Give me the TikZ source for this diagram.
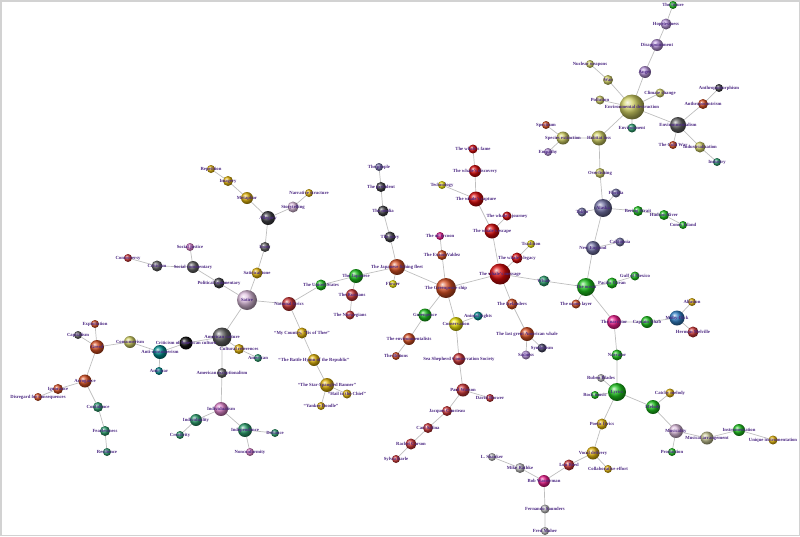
\documentclass[tikz,border=0pt]{standalone}
\usepackage{fontspec}
\setmainfont{Liberation Serif}
\usetikzlibrary{shadings}
\pgfdeclarelayer{bg}
\pgfsetlayers{bg,main}
\definecolor{cRed}{RGB}{215,10,10}
\definecolor{cOrg}{RGB}{215,80,35}
\definecolor{cBrick}{RGB}{205,55,55}
\definecolor{cGray}{RGB}{100,100,100}
\definecolor{cDark}{RGB}{65,65,70}
\definecolor{cBlack}{RGB}{15,15,15}
\definecolor{cThistle}{RGB}{222,190,222}
\definecolor{cGold}{RGB}{225,180,10}
\definecolor{cYel}{RGB}{235,225,10}
\definecolor{cOlive}{RGB}{210,210,100}
\definecolor{cGreen}{RGB}{30,195,30}
\definecolor{cSea}{RGB}{45,160,110}
\definecolor{cTeal}{RGB}{0,140,140}
\definecolor{cMag}{RGB}{235,30,140}
\definecolor{cSlate}{RGB}{115,115,165}
\definecolor{cLav}{RGB}{185,150,220}
\definecolor{cBlue}{RGB}{50,130,200}
\definecolor{cSilver}{RGB}{190,190,190}
\definecolor{cPink}{RGB}{220,130,200}
\definecolor{cKhaki}{RGB}{200,200,150}
\definecolor{cNavy}{RGB}{70,70,100}
\definecolor{cLbl}{RGB}{75,40,130}
\definecolor{cEdge}{RGB}{190,190,190}
\definecolor{cFrame}{RGB}{210,210,210}
\tikzset{
  bnode/.style={circle, inner sep=0pt, outer sep=0pt},
  lbl/.style={font=\fontsize{4.7}{5}\selectfont\bfseries, text=cLbl, inner sep=0pt},
  edge/.style={draw=cEdge, line width=0.7pt}
}
\newcommand\bn[6]{\node[bnode, minimum size=#4pt, ball color=#5, label={[lbl]center:{#6}}] (#1) at (#2,#3) {};}
\begin{document}
\begin{tikzpicture}[x=1pt,y=-1pt]
\useasboundingbox (0,0) rectangle (800,536);
\draw[cFrame, line width=1.5pt] (0.75,0.75) rectangle (799.25,535.25);
% left cluster
\bn{contro}{128}{258}{8}{cBrick}{Controversy}
\bn{critic}{157}{266}{11}{cGray}{Criticism}
\bn{socom}{193}{267}{12}{cGray}{Social commentary}
\bn{sojus}{190}{247}{8}{cPink}{Social justice}
\bn{polcom}{219}{283}{11}{cDark}{Political commentary}
\bn{satire}{247}{300}{20}{cThistle}{Satire}
\bn{sattone}{257}{273}{11}{cGold}{Satirical tone}
\bn{irony}{265}{247}{10}{cGray}{Irony}
\bn{alleg}{268}{218}{14}{cDark}{Allegory}
\bn{story}{293}{207}{11}{cThistle}{Storytelling}
\bn{narrs}{309}{193}{8}{cGold}{Narrative structure}
\bn{metaph}{247}{198}{12}{cGold}{Metaphor}
\bn{imag}{228}{181}{10}{cGold}{Imagery}
\bn{repet}{211}{169}{8}{cGold}{Repetition}
\bn{amcult}{222}{337}{19}{cGray}{American culture}
\bn{critam}{186}{343}{13}{cBlack}{Criticism of American culture}
\bn{culref}{239}{349}{10}{cGold}{Cultural references}
\bn{american}{258}{358}{8}{cSea}{American}
\bn{amexc}{222}{373}{10}{cGray}{American exceptionalism}
\bn{indivm}{221}{409}{14}{cPink}{Individualism}
\bn{indivy}{196}{420}{12}{cSea}{Individuality}
\bn{creat}{180}{435}{8}{cSea}{Creativity}
\bn{indep}{245}{430}{14}{cSea}{Independence}
\bn{defi}{275}{433}{8}{cSea}{Defiance}
\bn{noncon}{250}{452}{8}{cPink}{Nonconformity}
\bn{anticon}{160}{352}{14}{cTeal}{Anti-consumerism}
\bn{antiwar}{159}{371}{8}{cTeal}{Anti-war}
\bn{consum}{130}{342}{12}{cOlive}{Consumerism}
\bn{greed}{97}{347}{14}{cOrg}{Greed}
\bn{exploit}{95}{324}{8}{cOrg}{Exploitation}
\bn{capit}{78}{335}{8}{cGray}{Capitalism}
\bn{arrog}{85}{381}{13}{cOrg}{Arrogance}
\bn{ignor}{58}{389}{10}{cOrg}{Ignorance}
\bn{disreg}{38}{397}{8}{cOrg}{Disregard for consequences}
\bn{confid}{98}{407}{10}{cSea}{Confidence}
\bn{fearl}{105}{431}{10}{cSea}{Fearlessness}
\bn{resil}{107}{452}{8}{cSea}{Resilience}
% anthems
\bn{natlyr}{289}{304}{14}{cBrick}{National lyrics}
\bn{mycountry}{302}{333}{11}{cGold}{``My Country, 'Tis of Thee''}
\bn{battle}{314}{360}{12}{cGold}{``The Battle Hymn of the Republic''}
\bn{star}{327}{385}{14}{cGold}{``The Star-Spangled Banner''}
\bn{hail}{347}{394}{9}{cGold}{``Hail to the Chief''}
\bn{yankee}{321}{406}{8}{cGold}{``Yankee Doodle''}
\bn{usa}{321}{285}{11}{cGreen}{The United States}
\bn{japanese}{356}{276}{14}{cGreen}{The Japanese}
\bn{russians}{352}{295}{12}{cBrick}{The Russians}
\bn{norweg}{350}{315}{9}{cBrick}{The Norwegians}
\bn{fleet}{397}{267}{16}{cOrg}{The Japanese fishing fleet}
\bn{flower}{393}{284}{8}{cYel}{Flower}
\bn{people}{379}{167}{8}{cSlate}{The people}
\bn{president}{381}{187}{10}{cDark}{The president}
\bn{media}{383}{211}{11}{cDark}{The media}
\bn{navy}{390}{237}{11}{cDark}{The navy}
% centre
\bn{tycoon}{440}{236}{8}{cMag}{The oil tycoon}
\bn{exxon}{442}{255}{10}{cOrg}{The Exxon Valdez}
\bn{gpship}{446}{288}{20}{cOrg}{The Greenpeace ship}
\bn{gp}{425}{315}{13}{cGreen}{Greenpeace}
\bn{envists}{409}{339}{12}{cOrg}{The environmentalists}
\bn{britons}{396}{356}{8}{cOrg}{The Britons}
\bn{conserv}{456}{324}{14}{cYel}{Conservation}
\bn{animal}{478}{316}{9}{cTeal}{Animal rights}
\bn{seash}{459}{359}{12}{cBrick}{Sea Shepherd Conservation Society}
\bn{watson}{463}{390}{13}{cBrick}{Paul Watson}
\bn{brower}{490}{398}{8}{cBrick}{David Brower}
\bn{cousteau}{447}{411}{10}{cBrick}{Jacques Cousteau}
\bn{safina}{428}{428}{10}{cBrick}{Carl Safina}
\bn{carson}{411}{444}{11}{cBrick}{Rachel Carson}
\bn{earle}{396}{459}{8}{cBrick}{Sylvia Earle}
\bn{wfame}{473}{149}{9}{cRed}{The whale's fame}
\bn{wdisc}{475}{171}{12}{cRed}{The whale's discovery}
\bn{tech}{442}{185}{8}{cYel}{Technology}
\bn{wcapt}{476}{199}{15}{cRed}{The whale's capture}
\bn{wjour}{507}{216}{9}{cRed}{The whale's journey}
\bn{wesc}{492}{231}{15}{cRed}{The whale's escape}
\bn{tradit}{531}{244}{8}{cYel}{Tradition}
\bn{wleg}{517}{258}{11}{cRed}{The whale's legacy}
\bn{wmsg}{500}{274}{21}{cRed}{The whale's message}
\bn{whale}{544}{281}{11}{cSea}{Whale}
\bn{iceland}{512}{304}{11}{cOrg}{The Icelanders}
\bn{lastwhale}{527}{334}{14}{cOrg}{The last great American whale}
\bn{symbol}{542}{348}{9}{cNavy}{Symbolism}
\bn{sadness}{526}{355}{9}{cLav}{Sadness}
% right
\bn{ocean}{586}{287}{18}{cGreen}{The ocean}
\bn{pacific}{612}{283}{11}{cGreen}{Pacific Ocean}
\bn{gulf}{635}{276}{9}{cGreen}{Gulf of Mexico}
\bn{ozone}{576}{304}{9}{cOrg}{The ozone layer}
\bn{newengl}{593}{248}{14}{cSlate}{New England}
\bn{calif}{620}{242}{9}{cSlate}{California}
\bn{alaska}{603}{208}{18}{cSlate}{Alaska}
\bn{florida}{616}{193}{9}{cSlate}{Florida}
\bn{tokyo}{582}{212}{9}{cSlate}{Tokyo}
\bn{bering}{638}{211}{10}{cGreen}{Bering Strait}
\bn{hudson}{664}{215}{10}{cGreen}{Hudson River}
\bn{coney}{683}{225}{8}{cGreen}{Coney Island}
\bn{overf}{600}{173}{10}{cOlive}{Overfishing}
\bn{habit}{599}{138}{15}{cOlive}{Habitat loss}
\bn{specext}{563}{138}{13}{cOlive}{Species extinction}
\bn{spectr}{546}{125}{8}{cOrg}{Spectrum}
\bn{empathy}{548}{152}{8}{cLav}{Empathy}
\bn{envdest}{632}{107}{25}{cOlive}{Environmental destruction}
\bn{pollut}{600}{100}{9}{cOlive}{Pollution}
\bn{war}{608}{80}{10}{cOlive}{War}
\bn{nuclear}{590}{64}{8}{cOlive}{Nuclear weapons}
\bn{climate}{660}{93}{9}{cOlive}{Climate change}
\bn{anger}{645}{72}{12}{cLav}{Anger}
\bn{disapp}{657}{45}{12}{cLav}{Disappointment}
\bn{hopel}{666}{24}{11}{cLav}{Hopelessness}
\bn{future}{673}{5}{8}{cGreen}{The future}
\bn{environ}{632}{128}{9}{cSea}{Environment}
\bn{envism}{678}{125}{16}{cGray}{Environmentalism}
\bn{anthroc}{703}{104}{10}{cOrg}{Anthropocentrism}
\bn{anthrom}{719}{88}{8}{cDark}{Anthropomorphism}
\bn{coldwar}{673}{145}{8}{cOrg}{The Cold War}
\bn{indust}{700}{147}{11}{cOlive}{Industrialization}
\bn{industry}{717}{162}{8}{cSea}{Industry}
\bn{narrator}{614}{322}{14}{cMag}{The narrator}
\bn{ahab}{647}{322}{12}{cGreen}{Captain Ahab}
\bn{moby}{677}{318}{15}{cBlue}{Moby-Dick}
\bn{allusion}{692}{302}{8}{cGold}{Allusion}
\bn{melville}{693}{332}{11}{cBrick}{Herman Melville}
\bn{narr2}{617}{355}{11}{cGreen}{Narrator}
\bn{lyrics}{617}{392}{18}{cGreen}{Lyrics}
\bn{ruben}{601}{378}{8}{cSilver}{Ruben Blades}
\bn{rock}{595}{395}{8}{cGreen}{Rock music}
\bn{catchy}{670}{393}{9}{cGold}{Catchy melody}
\bn{melody}{653}{407}{14}{cGreen}{Melody}
\bn{musical}{676}{431}{14}{cThistle}{Musicality}
\bn{product}{672}{452}{8}{cGreen}{Production}
\bn{arrange}{707}{438}{13}{cKhaki}{Musical arrangement}
\bn{instr}{739}{430}{12}{cGreen}{Instrumentation}
\bn{uniq}{773}{440}{9}{cGold}{Unique instrumentation}
\bn{poetic}{602}{424}{11}{cGold}{Poetic lyrics}
\bn{vocal}{593}{453}{13}{cGold}{Vocal delivery}
\bn{collab}{608}{469}{8}{cGold}{Collaborative effort}
\bn{loureed}{569}{465}{11}{cBrick}{Lou Reed}
\bn{wasser}{544}{481}{12}{cMag}{Bob Wasserman}
\bn{rathke}{520}{468}{10}{cSilver}{Mike Rathke}
\bn{shanker}{492}{457}{8}{cSilver}{L. Shanker}
\bn{saunders}{545}{509}{9}{cSilver}{Fernando Saunders}
\bn{maher}{545}{531}{8}{cSilver}{Fred Maher}
\begin{pgfonlayer}{bg}
\path[edge]
 (contro)--(critic) (critic)--(socom) (sojus)--(socom) (socom)--(polcom)
 (polcom)--(satire) (satire)--(sattone) (sattone)--(irony) (irony)--(alleg)
 (alleg)--(story) (story)--(narrs) (alleg)--(metaph) (metaph)--(imag) (imag)--(repet)
 (satire)--(amcult) (satire)--(natlyr) (amcult)--(critam) (amcult)--(culref)
 (culref)--(american) (amcult)--(amexc) (amexc)--(indivm) (indivm)--(indivy)
 (indivy)--(creat) (indivm)--(indep) (indep)--(defi) (indep)--(noncon)
 (critam)--(anticon) (anticon)--(consum) (anticon)--(antiwar) (consum)--(greed)
 (greed)--(exploit) (greed)--(capit) (greed)--(arrog) (arrog)--(ignor)
 (ignor)--(disreg) (arrog)--(confid) (confid)--(fearl) (fearl)--(resil)
 (natlyr)--(mycountry) (mycountry)--(battle) (battle)--(star) (star)--(hail) (star)--(yankee)
 (natlyr)--(usa) (usa)--(japanese) (japanese)--(russians) (russians)--(norweg)
 (japanese)--(fleet) (fleet)--(flower) (fleet)--(navy) (navy)--(media)
 (media)--(president) (president)--(people)
 (fleet)--(gpship) (gpship)--(exxon) (exxon)--(tycoon) (gpship)--(wmsg)
 (gpship)--(gp) (gp)--(envists) (envists)--(britons) (gpship)--(conserv)
 (conserv)--(animal) (conserv)--(seash) (seash)--(watson) (watson)--(brower)
 (watson)--(cousteau) (cousteau)--(safina) (safina)--(carson) (carson)--(earle)
 (wmsg)--(wesc) (wesc)--(wjour) (wesc)--(wcapt) (wcapt)--(tech) (wcapt)--(wdisc)
 (wdisc)--(wfame) (wmsg)--(wleg) (wleg)--(tradit) (wmsg)--(whale) (wmsg)--(iceland)
 (iceland)--(lastwhale) (lastwhale)--(symbol) (lastwhale)--(sadness)
 (whale)--(ocean) (ocean)--(pacific) (pacific)--(gulf) (ocean)--(ozone)
 (ocean)--(newengl) (newengl)--(calif) (newengl)--(alaska) (alaska)--(florida)
 (alaska)--(tokyo) (alaska)--(bering) (bering)--(hudson) (hudson)--(coney)
 (alaska)--(overf) (overf)--(habit) (habit)--(specext) (specext)--(spectr)
 (specext)--(empathy) (habit)--(envdest) (envdest)--(pollut) (envdest)--(war)
 (war)--(nuclear) (envdest)--(climate) (envdest)--(anger) (anger)--(disapp)
 (disapp)--(hopel) (hopel)--(future) (envdest)--(environ) (envdest)--(envism)
 (envism)--(anthroc) (anthroc)--(anthrom) (envism)--(coldwar) (envism)--(indust)
 (indust)--(industry)
 (ocean)--(narrator) (narrator)--(ahab) (ahab)--(moby) (moby)--(allusion)
 (moby)--(melville) (narrator)--(narr2) (narr2)--(lyrics) (lyrics)--(ruben)
 (lyrics)--(rock) (lyrics)--(melody) (melody)--(catchy) (melody)--(musical)
 (musical)--(product) (musical)--(arrange) (arrange)--(instr) (instr)--(uniq)
 (lyrics)--(poetic) (poetic)--(vocal) (vocal)--(collab) (vocal)--(loureed)
 (loureed)--(wasser) (wasser)--(rathke) (rathke)--(shanker) (wasser)--(saunders)
 (saunders)--(maher);
\end{pgfonlayer}
\end{tikzpicture}
\end{document}
